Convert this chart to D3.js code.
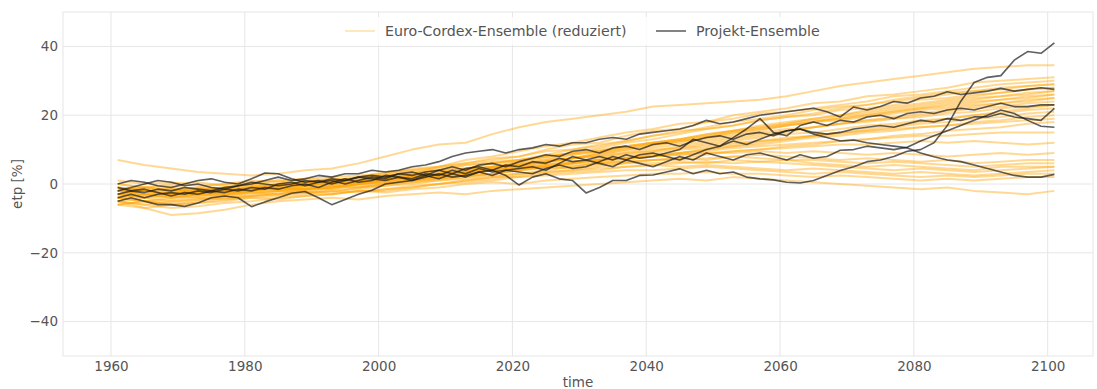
<!DOCTYPE html>
<html><head><meta charset="utf-8">
<script src="https://cdn.jsdelivr.net/npm/d3@7"></script>
<style>
html,body{margin:0;padding:0;background:#fff;}
svg{display:block;font-family:"DejaVu Sans",sans-serif;}
</style></head>
<body><svg id="chart" width="1097" height="389"></svg>
<script>
// ---------- data ----------
const yTicks = [-40, -20, 0, 20, 40];
const xTicks = [1960, 1980, 2000, 2020, 2040, 2060, 2080, 2100];
const legendLabels = ["Euro-Cordex-Ensemble (reduziert)", "Projekt-Ensemble"];
const yearsEuro = d3.range(1961, 2102, 4);   // 36 time steps
const yearsProj = d3.range(1961, 2102, 2);   // 71 time steps

// Euro-Cordex ensemble members (etp change in %)
const euro01 = [-3,-2,-3,-1.5,-2,-1,0,1,0.5,2,3,4.5,5,7,8,9.5,11,12,13.5,15,16,17.5,18,20,21,22,23.5,24,25.5,26,27,28,29.5,30,30.5,31];
const euro02 = [-1,-2,-1,-2.5,-1,-0.5,-1,0.5,1.5,1,2.5,3,5,6,7.5,8,10,11.5,12,14,15.5,16,18,19,20.5,21,22,23,24,25.5,26,27,28,29,29.5,30];
const euro03 = [7,5.5,4.5,3.5,3,2.5,3,4,4.5,6,8,10,11.5,12,14.5,16.5,18,19,20,21,22.5,23,23.5,24,24.5,25.5,27,28.5,29.5,30.5,31.5,32.5,33.5,34,34.5,34.5];
const euro04 = [-4,-3,-4,-3,-2.5,-2,-1.5,-2,-1,0,1,1.5,3,4,5,6.5,8,9,10.5,12,13,14.5,16,17,18.5,19.5,20.5,22,23,24,25,26,27,27.5,28.5,29];
const euro05 = [-2,-3,-2,-1,-2,-1.5,0,-0.5,0.5,2,2.5,3.5,4,5.5,6.5,7,8.5,10,11,12.5,14,15,16.5,18,19,20,21.5,22.5,23,24.5,25.5,26.5,27,28,28.5,29];
const euro06 = [-5,-4,-3.5,-4,-3,-2.5,-3,-1.5,-1,-0.5,0,1,2.5,3,4.5,5.5,7,7.5,9,10.5,12,13,14,15.5,17,18,19,20,21.5,22.5,23.5,24.5,25.5,26.5,27.5,28];
const euro07 = [0,-1,-2,-1,0,0.5,1,0,1,2,3.5,4,5,6,7,8,9.5,10,11.5,12.5,14,15.5,16,17,18.5,19.5,20,21.5,22,23,24.5,25,26,26.5,27.5,28];
const euro08 = [-3,-2,-1.5,-2.5,-3,-2,-1,-1.5,-0.5,0.5,1,2,2.5,4,5,6,7,8.5,9.5,11,12,13,14.5,15.5,16.5,17.5,19,20,21,22,23,24,25,25.5,26.5,27];
const euro09 = [-6,-5,-5.5,-4.5,-4,-3.5,-2.5,-2,-2.5,-1,-0.5,0.5,1.5,2.5,4,5,6.5,7.5,8.5,10,11,12.5,13.5,15,16,17,18,19.5,20.5,21.5,22.5,23.5,24.5,25.5,26,27];
const euro10 = [-2,-1,-0.5,-1.5,-1,0,-0.5,0.5,1.5,1,2,3,4,4.5,6,7,8,9,10,11,12,13,14.5,15.5,16.5,17.5,18.5,19,20,21,22,23,24,24.5,25.5,26];
const euro11 = [-4,-5,-4,-3,-3.5,-2.5,-2,-1,-1.5,0,1,1.5,2,3.5,4.5,5.5,6.5,7.5,9,10,11.5,12,13.5,14.5,15.5,17,18,19,20,21,22,22.5,23.5,24.5,25,26];
const euro12 = [-1,-2,-2.5,-2,-1,-1.5,-0.5,0,0.5,1.5,2,3,3.5,4.5,6,6.5,7.5,8.5,9.5,11,12,12.5,14,15,16,17,18,18.5,19.5,20.5,21.5,22,23,23.5,24.5,25];
const euro13 = [-5,-6,-5,-4,-4.5,-3.5,-3,-2.5,-2,-1.5,-0.5,0,1,2,3,4,5,6,7.5,8.5,9.5,11,12,13,14,15,16.5,17.5,18.5,19.5,20.5,21.5,22.5,23.5,24,25];
const euro14 = [-3,-3.5,-2.5,-3,-2,-1,-1.5,-0.5,0,0.5,1.5,2,3,3.5,4.5,5.5,6.5,7.5,8.5,9.5,10.5,11.5,12.5,13.5,14.5,15.5,16.5,17.5,18.5,19,20,21,22,22.5,23.5,24];
const euro15 = [1,0,0.5,-0.5,0,1,0.5,1.5,2,2.5,3,4,4.5,5.5,6,7,8,9,9.5,10.5,11.5,12.5,13,14,15,16,16.5,17.5,18,19,19.5,20.5,21,22,22.5,23];
const euro16 = [-6,-7,-6,-5.5,-5,-4,-4.5,-3.5,-3,-2,-2,-1,0,1,2,3,4,5,6,7,8,9,10,11,12,13,14,15,16,17,18,19,20,21,22,23];
const euro17 = [-2,-1,-2,-1.5,-1,-0.5,0,0.5,0,1,2,2.5,3,4,5,5.5,6.5,7.5,8,9,10,10.5,11.5,12.5,13.5,14.5,15,16,17,17.5,18.5,19,20,20.5,21.5,22];
const euro18 = [-4,-3,-3.5,-2.5,-3,-2,-1,-1.5,-0.5,0,0.5,1.5,2,3,4,4.5,5.5,6.5,7,8,9,10,10.5,11.5,12.5,13,14,15,15.5,16.5,17.5,18,19,19.5,20.5,21];
const euro19 = [-3,-4,-5,-4.5,-3.5,-3,-2,-2.5,-1.5,-1,0,1,1.5,2.5,3,4,5,6,6.5,7.5,8.5,9,10,11,11.5,12.5,13.5,14,15,15.5,16.5,17,18,18.5,19.5,20];
const euro20 = [0,-1,0,0.5,-0.5,0,1,1.5,1,2,2.5,3,4,4.5,5,6,6.5,7.5,8,9,9.5,10.5,11,12,12.5,13.5,14,14.5,15.5,16,16.5,17,17.5,18,18.5,19];
const euro21 = [-5,-6,-7,-6.5,-5.5,-5,-4,-3.5,-3,-2,-1.5,-0.5,0,1,1.5,2.5,3.5,4,5,6,7,7.5,8.5,9.5,10,11,11.5,12.5,13,14,14.5,15.5,16,16.5,17.5,18];
const euro22 = [-2,-3,-2.5,-1.5,-2,-1,-1.5,0,0.5,0,1,2,2.5,3,4,4.5,5.5,6,7,7.5,8.5,9,9.5,10.5,11,11.5,12,12.5,13,13.5,14,14,14.5,15,15,15];
const euro23 = [-1,-2,-3,-2.5,-1.5,-2,-1,-0.5,0.5,1,1.5,2,3,3.5,4,5,5.5,6,7,7.5,8,8.5,9,9.5,10,10.5,11,11.5,11.5,12,12.5,12,12.5,12,11.5,12];
const euro24 = [-3,-2,-3,-2,-1.5,-1,-0.5,0,1,0.5,1.5,2.5,3,3.5,4.5,5,6,6.5,7,7.5,8,8.5,9,9,9.5,9,9.5,9,8.5,9,8.5,8,8.5,9,8.5,9];
const euro25 = [-4,-5,-4.5,-3.5,-3,-2.5,-2,-1.5,-1,0,0.5,1,2,2.5,3,4,4.5,5,6,6.5,7,7.5,7,8,8.5,8,7.5,7,7.5,7,6.5,7,6,6.5,7,7];
const euro26 = [-2,-1,-1.5,-2.5,-2,-1,-1.5,-0.5,0,1,1.5,2,2.5,3.5,4,4.5,5,5.5,6,6.5,7,7,7.5,8,7.5,7,7,6.5,6,6.5,6,5.5,5,5.5,6,6];
const euro27 = [-6,-5,-6,-5.5,-4.5,-4,-3.5,-3,-2,-2.5,-1.5,-1,0,0.5,1,2,3,3.5,4,5,5.5,6,6.5,6,6.5,7,6,5.5,5,5.5,5,4.5,4,5,5,5];
const euro28 = [-1,-2,-3,-2,-1,-1.5,0,-0.5,0.5,1,2,2.5,3,3,4,4.5,5,4.5,5.5,6,6,6.5,6,7,6.5,6,5.5,5,4.5,4,4.5,4,3.5,4,4.5,5];
const euro29 = [-3,-4,-3,-3.5,-2.5,-2,-1,-1.5,-1,0,0.5,1,1.5,2,2.5,3,3.5,4,4.5,5,5.5,5,5.5,5,4.5,4,4.5,4,3.5,3,3.5,3,2.5,3,3.5,4];
const euro30 = [-2,-3,-4,-3,-2.5,-1.5,-2,-1,-0.5,-1,0,0.5,1,1.5,2,2,2.5,3,3.5,4,4,4.5,5,4.5,4,3.5,3,3.5,3,2.5,2,2.5,2,2.5,3,3];
const euro31 = [-4,-5,-6,-5,-4,-3.5,-3,-2.5,-3,-2,-2.5,-1.5,-1,0,0.5,0,1,1.5,2,2.5,3,3,3.5,3,3,2.5,2,2.5,2,1.5,1,1.5,1,1.5,2,2];
const euro32 = [-5,-7,-9,-8.5,-7.5,-6,-5,-4.5,-4,-4.5,-3.5,-3,-2.5,-3,-2,-1.5,-1,-0.5,0,0.5,1,1.5,1,2,1.5,1,0.5,0,-0.5,-1,-1.5,-1,-2,-2.5,-3,-2];

// Projekt ensemble members
const proj1 = [-5,-4,-5,-6,-6,-6.5,-5.5,-4,-3.5,-4,-6.6,-5.2,-4,-2.7,-2.2,-4,-6,-4.5,-3,-1.8,0,0.5,1,2,3,2,2.5,3.5,4,2.5,-0.3,2,3,1.5,1,-2.6,-1,1,1,2.5,2.6,3.5,4.4,3,4,3,3.5,2,1.5,1.2,0.5,0.3,1,2.5,3.9,5,6.5,7,8,9.5,10,12,17,24,29.5,31,31.5,36,38.5,38,41];
const proj2 = [-2,-1,0,1,0.5,-0.5,0,-1,-1.5,-0.5,0,1,2,1,1.5,2.5,2,3,3,4,3.5,4,5,5.5,6.5,8,9,9.5,10,9,10,10.5,11.5,11,12,12,13,13.5,13,14.5,15,15.5,16,17,18.5,17.5,18,19,20,20.5,21,21.5,22,21,19.5,22.4,21.5,22.5,24,23.5,25,25.5,26.8,26,26.5,27,27.8,27,27.5,28,27.5];
const proj3 = [-3,-2,-2.5,-1.5,-2,-1,-1.5,-2,-1,-0.5,0.5,0,-0.5,0,1,0.5,1.5,1,2,2.5,2,3,2.5,3.5,4,3,4.5,5,4,5.5,5,6.5,6,7.5,6.5,7,8,7,8.5,7.5,8,9,10,13,12,11,13.5,16,19,15,14,17,18,17,18.5,18,19.5,20,19,20.5,21,20.5,21.5,22,21.5,22.5,23.5,22.5,22.5,23,23];
const proj4 = [-4,-3,-4,-3,-2.5,-3,-2,-2.5,-1.5,-2,-1,-1.5,0,0.5,-0.5,0.5,1,0,1,2,1.5,3,3.5,2.5,4,5,4,5.5,6,5,6.5,7.5,8.5,8,9.5,10,9,10.5,11,10,11.5,12,11,12.5,13.5,14,13,14.5,15,14,15.5,16,15,14.5,15,16,16.5,17,16.5,17.5,18.5,18,19,18.5,19.5,19.5,20.5,19.5,19,18.5,22];
const proj5 = [0,1,0.5,-0.5,-1,0,1,1.5,0.5,0,1.5,3.2,3,1.5,0.5,1,0,1,2,1.5,1,2,1.5,3,2.5,4,3,4.5,3.5,4,4.5,5,4,6,8,7,6,5,7,6,5,6.5,8,7,9,8,7,8.5,9,8,7,8.5,7.5,8,9.8,10,11,10.5,10,10.7,12.5,14,15.5,17,18.5,20,21.5,20.5,18.5,16.8,16.5];
const proj6 = [-1,-2,-1.5,-2.5,-3.5,-2.5,-3,-2,-2.5,-1.5,-2,-1,-1.5,-0.5,0,-1,0.5,1.5,0.5,1,2.5,2,1,2.5,1.5,3,2,3.5,2.5,4,3.5,3,4.5,5.5,4.5,5,6.5,8,7,8.5,9,8,7,8.5,10,11,12.5,11.5,13,14.5,15.5,16,14.5,13.5,12.5,12.8,12,11.5,11,10.5,9,7.9,7,6.5,5.5,4.5,3.5,2.5,2,2,2.8];

const euroSeries = [euro01,euro02,euro03,euro04,euro05,euro06,euro07,euro08,euro09,euro10,euro11,euro12,euro13,euro14,euro15,euro16,euro17,euro18,euro19,euro20,euro21,euro22,euro23,euro24,euro25,euro26,euro27,euro28,euro29,euro30,euro31,euro32];
const projSeries = [proj1,proj2,proj3,proj4,proj5,proj6];

// ---------- drawing ----------
const svg = d3.select("#chart");
const plot = {left: 63, right: 1093, top: 12, bottom: 356};
const x = d3.scaleLinear().domain([1952.83, 2106.77]).range([plot.left, plot.right]);
const y = d3.scaleLinear().domain([-50, 50]).range([plot.bottom, plot.top]);
const grid = "#e6e6e6", txt = "#555";

const defs = svg.append("defs");
defs.append("filter").attr("id", "soft").attr("x", "-2%").attr("y", "-10%").attr("width", "104%").attr("height", "120%")
  .append("feGaussianBlur").attr("stdDeviation", 0.45);
defs.append("clipPath").attr("id", "clip").append("rect")
  .attr("x", plot.left).attr("y", plot.top).attr("width", plot.right - plot.left).attr("height", plot.bottom - plot.top);

// grid
svg.append("g").selectAll("line").data(xTicks).join("line")
  .attr("x1", d => x(d)).attr("x2", d => x(d)).attr("y1", plot.top).attr("y2", plot.bottom)
  .attr("stroke", grid).attr("stroke-width", 1);
svg.append("g").selectAll("line").data(yTicks).join("line")
  .attr("x1", plot.left).attr("x2", plot.right).attr("y1", d => y(d)).attr("y2", d => y(d))
  .attr("stroke", grid).attr("stroke-width", 1);
svg.append("rect").attr("x", plot.left).attr("y", plot.top)
  .attr("width", plot.right - plot.left).attr("height", plot.bottom - plot.top)
  .attr("fill", "none").attr("stroke", grid).attr("stroke-width", 1);

// axes (labels only)
const xAxis = d3.axisBottom(x).tickValues(xTicks).tickFormat(d3.format("d")).tickSize(0).tickPadding(5);
const gx = svg.append("g").attr("transform", `translate(0,${plot.bottom})`).call(xAxis);
const yAxis = d3.axisLeft(y).tickValues(yTicks).tickFormat(d => d < 0 ? "\u2212" + Math.abs(d) : d).tickSize(0).tickPadding(5);
const gy = svg.append("g").attr("transform", `translate(${plot.left},0)`).call(yAxis);
[gx, gy].forEach(g => {
  g.select(".domain").remove();
  g.selectAll("text").attr("fill", txt).attr("font-size", 13.5).attr("font-family", "DejaVu Sans");
});

svg.append("text").attr("x", (plot.left + plot.right) / 2).attr("y", 387)
  .attr("text-anchor", "middle").attr("fill", txt).attr("font-size", 13.5).text("time");
svg.append("text").attr("transform", `translate(22,${(plot.top + plot.bottom) / 2}) rotate(-90)`)
  .attr("text-anchor", "middle").attr("fill", txt).attr("font-size", 13.5).text("etp [%]");

// lines
const lineEuro = d3.line().x((d, i) => x(yearsEuro[i])).y(d => y(d));
const lineProj = d3.line().x((d, i) => x(yearsProj[i])).y(d => y(d));
const gl = svg.append("g").attr("clip-path", "url(#clip)").append("g").attr("filter", "url(#soft)");
gl.selectAll("path.euro").data(euroSeries).join("path").attr("class", "euro")
  .attr("d", lineEuro).attr("fill", "none").attr("stroke", "#ffa500")
  .attr("stroke-opacity", 0.42).attr("stroke-width", 2).attr("stroke-linejoin", "round");
gl.selectAll("path.proj").data(projSeries).join("path").attr("class", "proj")
  .attr("d", lineProj).attr("fill", "none").attr("stroke", "#1a1a1a")
  .attr("stroke-opacity", 0.7).attr("stroke-width", 1.6).attr("stroke-linejoin", "round");

// legend
const lg = svg.append("g");
lg.append("rect").attr("x", 333).attr("y", 17).attr("width", 500).attr("height", 28)
  .attr("fill", "#fff").attr("fill-opacity", 0.8);
const legendItems = [
  {label: legendLabels[0], color: "#ffa500", op: 0.38, w: 1.4, x1: 345},
  {label: legendLabels[1], color: "#1a1a1a", op: 0.72, w: 1.5, x1: 656}
];
legendItems.forEach(it => {
  lg.append("line").attr("x1", it.x1).attr("x2", it.x1 + 30).attr("y1", 31).attr("y2", 31)
    .attr("stroke", it.color).attr("stroke-opacity", it.op).attr("stroke-width", it.w);
  lg.append("text").attr("x", it.x1 + 40).attr("y", 31).attr("dy", "0.35em")
    .attr("fill", txt).attr("font-size", 14.2).text(it.label);
});
</script></body></html>
